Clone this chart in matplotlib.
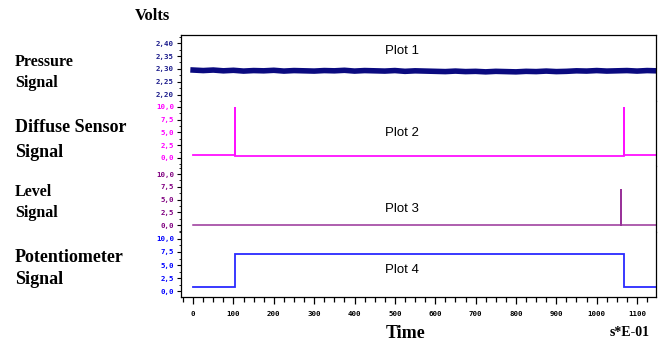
import numpy as np
import matplotlib
matplotlib.use("Agg")
import matplotlib.pyplot as plt
from matplotlib.ticker import MultipleLocator, FuncFormatter

# 読み取った値
pressure_t = list(range(0, 1150, 25)) + [1147]
pressure_v = [2.296, 2.294, 2.296, 2.293, 2.295, 2.292, 2.294, 2.293, 2.295, 2.292,
              2.294, 2.293, 2.292, 2.294, 2.293, 2.295, 2.292, 2.294, 2.293, 2.292,
              2.294, 2.291, 2.293, 2.292, 2.291, 2.290, 2.292, 2.290, 2.291, 2.289,
              2.291, 2.290, 2.289, 2.291, 2.290, 2.292, 2.290, 2.291, 2.293, 2.292,
              2.294, 2.292, 2.293, 2.294, 2.292, 2.294, 2.293]

diffuse_t = [0, 103, 103, 104, 104, 1067, 1067, 1068, 1068, 1147]
diffuse_v = [0.5, 0.5, 10.0, 10.0, 0.3, 0.3, 10.0, 10.0, 0.5, 0.5]

level_t = [0, 1061, 1061, 1061.5, 1061.5, 1147]
level_v = [0.0, 0.0, 7.0, 7.0, 0.0, 0.0]

pot_t = [0, 103, 103, 1068, 1068, 1147]
pot_v = [0.8, 0.8, 7.1, 7.1, 0.8, 0.8]

panel_titles = ["Plot 1", "Plot 2", "Plot 3", "Plot 4"]
left_labels = [("Pressure", "Signal"), ("Diffuse Sensor", "Signal"),
               ("Level", "Signal"), ("Potentiometer", "Signal")]

W, H = 667, 343
fig = plt.figure(figsize=(W / 100, H / 100), dpi=100)
gs = fig.add_gridspec(4, 1, left=181 / W, right=656 / W, top=1 - 35 / H, bottom=1 - 297 / H, hspace=0)
axes = [fig.add_subplot(gs[i]) for i in range(4)]
for ax in axes[1:]:
    ax.sharex(axes[0])

series = [(pressure_t, pressure_v), (diffuse_t, diffuse_v), (level_t, level_v), (pot_t, pot_v)]
line_colors = ["#0a0a80", "#ff10ff", "#993399", "#2a2aff"]
tick_colors = ["#1c1c8c", "#ff00ff", "#800080", "#0000ff"]
line_widths = [4.0, 1.3, 1.1, 1.3]
ylims = [(2.1788, 2.4308), (-1.57, 11.27), (-1.27, 11.57), (-1.15, 11.44)]
ysteps = [0.05, 2.5, 2.5, 2.5]
title_y = [0.756, 0.50, 0.344, 0.412]
mono = "DejaVu Sans Mono"

for i, ax in enumerate(axes):
    t, v = series[i]
    ax.plot(t, v, color=line_colors[i], lw=line_widths[i], solid_joinstyle="miter")
    ax.set_xlim(-30, 1147)
    ax.set_ylim(*ylims[i])
    ax.yaxis.set_major_locator(MultipleLocator(ysteps[i]))
    ax.yaxis.set_minor_locator(MultipleLocator(ysteps[i] / 2))
    if i == 0:
        ax.yaxis.set_major_formatter(FuncFormatter(lambda y, p: f"{y:.2f}".replace(".", ",")))
    else:
        ax.yaxis.set_major_formatter(FuncFormatter(lambda y, p: f"{y:.1f}".replace(".", ",")))
    ax.tick_params(axis="y", which="major", length=3, width=0.8, pad=2,
                   labelsize=5.3, labelcolor=tick_colors[i])
    ax.tick_params(axis="y", which="minor", length=1.5, width=0.6)
    for lab in ax.get_yticklabels():
        lab.set_family(mono)
        lab.set_fontweight("bold")
    ax.spines["top"].set_visible(i == 0)
    ax.spines["bottom"].set_visible(i == 3)
    for s in ax.spines.values():
        s.set_linewidth(0.9)
    ax.text(0.465, title_y[i], panel_titles[i], transform=ax.transAxes, ha="center", va="center",
            fontsize=9.5, family="Liberation Sans")
    if i < 3:
        ax.tick_params(axis="x", which="both", bottom=False, labelbottom=False)

ax = axes[3]
ax.xaxis.set_major_locator(MultipleLocator(100))
ax.xaxis.set_minor_locator(MultipleLocator(25))
ax.tick_params(axis="x", which="major", length=5, width=0.9, pad=5, labelsize=5.3)
ax.tick_params(axis="x", which="minor", length=3.5, width=0.9)
for lab in ax.get_xticklabels():
    lab.set_family(mono)
    lab.set_fontweight("bold")

serif = "Liberation Serif"
sizes = [11.5, 13, 11.5, 13]
line_y = [(62, 83), (128, 152), (192, 213), (258, 280)]
for (a, b), sz, (y1, y2) in zip(left_labels, sizes, line_y):
    fig.text(15 / W, 1 - y1 / H, a, ha="left", va="center", fontsize=sz, fontweight="bold", family=serif)
    fig.text(15 / W, 1 - y2 / H, b, ha="left", va="center", fontsize=sz, fontweight="bold", family=serif)

fig.text(135 / W, 1 - 16 / H, "Volts", ha="left", va="center", fontsize=12, fontweight="bold", family=serif)
fig.text(406 / W, 1 - 333 / H, "Time", ha="center", va="center", fontsize=13, fontweight="bold", family=serif)
fig.text(650 / W, 1 - 332 / H, "s*E-01", ha="right", va="center", fontsize=10, fontweight="bold", family=serif)

fig.savefig("out.png", dpi=100)
